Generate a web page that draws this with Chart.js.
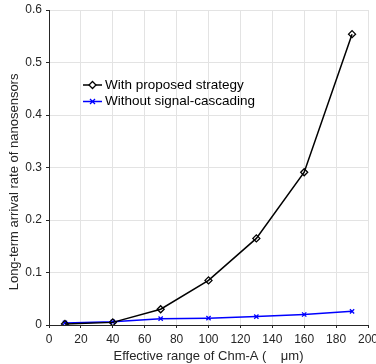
<!DOCTYPE html>
<html><head><meta charset="utf-8">
<script src="https://cdn.jsdelivr.net/npm/chart.js@4/dist/chart.umd.min.js"></script>
<style>html,body{margin:0;padding:0;background:#fff}#wrap{width:376px;height:364px}</style>
</head><body><div id="wrap"><canvas id="c" width="376" height="364"></canvas></div>
<script>
const xValues = [10, 40, 70, 100, 130, 160, 190];
const withStrategy = [0.002, 0.005, 0.030, 0.085, 0.165, 0.291, 0.554];
const withoutCascading = [0.004, 0.006, 0.012, 0.013, 0.016, 0.020, 0.026];
const seriesNames = ["With proposed strategy", "Without signal-cascading"];
const xTitle = "Effective range of Chm-A (    \u03bcm)";
const yTitle = "Long-term arrival rate of nanosensors        ";
const FONT = "'Liberation Sans', Arial, Helvetica, sans-serif";

function pts(xs, ys){ return xs.map((x,i)=>({x:x, y:ys[i]})); }
function noPad(s){ s.paddingTop = 0; s.paddingBottom = 0; s.paddingLeft = 0; s.paddingRight = 0; }

const legendPlugin = {
  id: 'inLegend',
  afterDatasetsDraw(chart){
    const ctx = chart.ctx;
    ctx.save();
    ctx.font = "13.5px " + FONT;
    ctx.textBaseline = 'middle';
    const left = 83, top = 85, gap = 16.5;
    chart.data.datasets.forEach((ds, i) => {
      const y = top + i*gap;
      ctx.strokeStyle = ds.borderColor; ctx.lineWidth = 1.5;
      ctx.beginPath(); ctx.moveTo(left, y); ctx.lineTo(left+19, y); ctx.stroke();
      const cx = left+9.5;
      ctx.lineWidth = 1.3;
      if (ds.pointStyle === 'rectRot') {
        ctx.fillStyle = '#fff';
        ctx.beginPath(); ctx.moveTo(cx, y-3.5); ctx.lineTo(cx+3.5, y); ctx.lineTo(cx, y+3.5); ctx.lineTo(cx-3.5, y); ctx.closePath(); ctx.fill(); ctx.stroke();
      } else {
        ctx.beginPath(); ctx.moveTo(cx-2.5,y-2.5); ctx.lineTo(cx+2.5,y+2.5); ctx.moveTo(cx+2.5,y-2.5); ctx.lineTo(cx-2.5,y+2.5); ctx.stroke();
      }
      ctx.fillStyle = '#000';
      ctx.fillText(ds.label, left+22, y);
    });
    ctx.restore();
  }
};

new Chart(document.getElementById('c'), {
  type: 'line',
  data: {
    datasets: [
      { label: seriesNames[0], data: pts(xValues, withStrategy), borderColor: '#000', backgroundColor: '#fff',
        borderWidth: 1.5, pointStyle: 'rectRot', pointRadius: 3.5, pointBorderWidth: 1.3, pointBorderColor: '#000', pointBackgroundColor: 'rgba(255,255,255,0)', tension: 0 },
      { label: seriesNames[1], data: pts(xValues, withoutCascading), borderColor: '#0000ff', backgroundColor: '#0000ff',
        borderWidth: 1.5, pointStyle: 'crossRot', pointRadius: 3, pointBorderWidth: 1.3, pointBorderColor: '#0000ff', tension: 0 }
    ]
  },
  options: {
    responsive: false, animation: false, devicePixelRatio: 1,
    layout: { padding: { top: 10, right: 8, left: 0, bottom: 0 } },
    plugins: { legend: { display: false }, tooltip: { enabled: false } },
    scales: {
      x: {
        type: 'linear', min: 0, max: 200,
        afterFit(s){ s.height = 39; noPad(s); },
        ticks: { stepSize: 20, color: '#262626', font: { family: FONT, size: 12 }, padding: 4, maxRotation: 0 },
        grid: { color: '#e3e3e3', tickLength: 3, tickColor: '#262626', drawTicks: true },
        border: { color: '#262626', width: 1 },
        title: { display: true, text: xTitle, color: '#262626', font: { family: FONT, size: 13 }, padding: { top: 1, bottom: 0 } }
      },
      y: {
        min: 0, max: 0.6,
        afterFit(s){ s.width = 49; noPad(s); },
        ticks: { stepSize: 0.1, color: '#262626', font: { family: FONT, size: 12 }, padding: 4,
          callback: v => (Math.round(v*10)/10).toString() },
        grid: { color: '#e3e3e3', tickLength: 3, tickColor: '#262626' },
        border: { color: '#262626', width: 1 },
        title: { display: true, text: yTitle, color: '#262626', font: { family: FONT, size: 13 }, padding: { top: 7, bottom: 0 } }
      }
    }
  },
  plugins: [legendPlugin]
});
</script></body></html>
